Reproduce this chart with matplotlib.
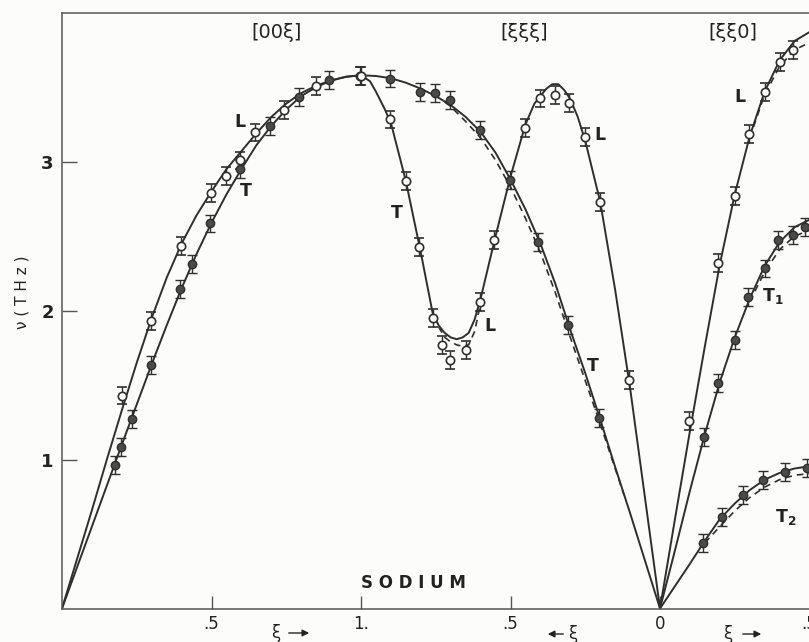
import numpy as np
import matplotlib
matplotlib.use("Agg")
import matplotlib.pyplot as plt
import matplotlib.patches as mpatches

plt.rcParams['font.family'] = ['DejaVu Sans']

# ---------------- data ----------------
# Branch [00xi]: xi from 0 (Gamma) to 1 (H)
xi_00_curve = [0, .05, .1, .15, .2, .25, .3, .35, .4, .45, .5, .55, .6, .65, .7, .75, .8, .85, .9, .95, 1.0]
L_00_curve = [0, .33, .66, 1.0, 1.33, 1.65, 1.95, 2.22, 2.45, 2.64, 2.80, 2.95, 3.07, 3.19, 3.30, 3.39, 3.46, 3.51, 3.545, 3.57, 3.58]
T_00_curve = [0, .275, .55, .825, 1.10, 1.37, 1.64, 1.90, 2.15, 2.38, 2.59, 2.78, 2.95, 3.11, 3.24, 3.35, 3.44, 3.50, 3.545, 3.57, 3.58]

L_00_xi = [0.199, 0.299, 0.399, 0.497, 0.547, 0.596, 0.646, 0.743, 0.849, 0.996]
L_00_nu = [1.43, 1.93, 2.435, 2.79, 2.905, 3.008, 3.196, 3.346, 3.507, 3.574]
T_00_xi = [0.177, 0.196, 0.234, 0.297, 0.393, 0.436, 0.496, 0.596, 0.696, 0.793, 0.893]
T_00_nu = [0.963, 1.086, 1.27, 1.637, 2.146, 2.312, 2.585, 2.948, 3.24, 3.435, 3.547]

# Branch [xixixi]: xi from 1 (H) back to 0 (Gamma)
xi_111_L_curve = [1.0, .97, .95, .92, .9, .85, .8, .76, .74, .72, .7, .68, .66, .64, .62, .6, .55, .5, .45, .42, .4, .38,
                  .36, .34, .32, .3, .275, .25, .2, .15, .1, .05, 0]
L_111_curve = [3.58, 3.54, 3.47, 3.35, 3.26, 2.87, 2.39, 1.98, 1.90, 1.85, 1.82, 1.808, 1.82, 1.85, 1.94, 2.08, 2.50, 2.90,
               3.25, 3.39, 3.44, 3.49, 3.52, 3.52, 3.48, 3.42, 3.30, 3.14, 2.73, 2.14, 1.48, 0.74, 0]
xi_111_Ld = [.74, .72, .7, .68, .66, .64, .62, .6]
L_111_dash = [1.89, 1.82, 1.79, 1.77, 1.76, 1.77, 1.86, 2.05]

xi_111_T_curve = [1.0, .95, .9, .85, .8, .75, .7, .65, .6, .55, .5, .45, .4, .35, .3, .25, .2, .15, .1, .05, 0]
T_111_curve = [3.58, 3.575, 3.56, 3.53, 3.49, 3.44, 3.38, 3.30, 3.20, 3.06, 2.88, 2.68, 2.45, 2.18, 1.87, 1.58, 1.27, 0.95, 0.64, 0.32, 0]
xi_111_Td = [.72, .7, .65, .6, .55, .5, .45, .4, .35, .3, .25, .2, .15, .12]
T_111_dash = [3.40, 3.37, 3.27, 3.16, 3.01, 2.83, 2.62, 2.39, 2.12, 1.82, 1.53, 1.24, 0.94, 0.76]

L_111_xi = [1.0, 0.903, 0.850, 0.805, 0.758, 0.730, 0.702, 0.649, 0.602, 0.555, 0.452, 0.401, 0.351, 0.303, 0.251, 0.201, 0.105]
L_111_nu = [3.574, 3.283, 2.871, 2.428, 1.948, 1.768, 1.667, 1.735, 2.059, 2.473, 3.223, 3.424, 3.446, 3.391, 3.166, 2.73, 1.533]
T_111_xi = [0.903, 0.803, 0.753, 0.702, 0.602, 0.502, 0.407, 0.307, 0.203]
T_111_nu = [3.558, 3.468, 3.458, 3.413, 3.211, 2.876, 2.462, 1.903, 1.277]

# Branch [xixi0]: xi from 0 (Gamma) to 0.5 (N)
xi_110_curve = [0, .05, .1, .15, .2, .25, .3, .35, .4, .45, .5]
L_110_curve = [0, 0.6, 1.19, 1.76, 2.31, 2.78, 3.17, 3.47, 3.68, 3.81, 3.87]
T1_110_curve = [0, 0.39, 0.79, 1.17, 1.52, 1.82, 2.08, 2.30, 2.46, 2.56, 2.61]
T2_110_curve = [0, 0.15, 0.30, 0.455, 0.60, 0.705, 0.795, 0.865, 0.91, 0.94, 0.955]
xi_110_dash = [.3, .35, .4, .45, .5]
L_110_dash = [3.16, 3.45, 3.64, 3.75, 3.80]
T1_110_dash = [2.06, 2.26, 2.41, 2.50, 2.54]
xi_110_T2d = [.15, .2, .25, .3, .35, .4, .45, .5]
T2_110_dash = [0.44, 0.55, 0.655, 0.745, 0.815, 0.865, 0.895, 0.905]

L_110_xi = [0.097, 0.195, 0.251, 0.299, 0.351, 0.401, 0.446]
L_110_nu = [1.258, 2.317, 2.772, 3.183, 3.468, 3.67, 3.748]
T1_110_xi = [0.147, 0.195, 0.251, 0.295, 0.351, 0.396, 0.446, 0.485]
T1_110_nu = [1.153, 1.511, 1.802, 2.093, 2.283, 2.473, 2.507, 2.562]
T2_110_xi = [0.145, 0.206, 0.279, 0.345, 0.418, 0.49]
T2_110_nu = [0.438, 0.616, 0.762, 0.862, 0.918, 0.941]

err = 0.06
tick_pos = [0.5, 1.0, 1.5, 2.0, 2.5]
tick_lab = ['.5', '1.', '.5', '0', '.5']

# ---------------- helpers: put each branch on the common abscissa ----------------
def s100(x):
    return np.asarray(x, float)

def s111(x):
    return 2.0 - np.asarray(x, float)

def s110(x):
    return 2.0 + np.asarray(x, float)

INK = '#2e2e2e'
BG = '#fcfcfa'

fig = plt.figure(figsize=(8.09, 6.42), dpi=100, facecolor=BG)
ax = fig.add_axes([62/809, (642-608.5)/642, (809.5-62)/809, (608.5-12.7)/642])
ax.set_facecolor(BG)
ax.set_xlim(0, 2.5)
ax.set_ylim(0, 4.0)

lw = 1.4
def solid(x, y):
    ax.plot(x, y, color=INK, lw=lw, solid_joinstyle='round', zorder=2)

def dashed(x, y):
    ax.plot(x, y, color=INK, lw=1.2, ls=(0, (4, 3)), zorder=2)

solid(s100(xi_00_curve), L_00_curve)
solid(s100(xi_00_curve), T_00_curve)
solid(s111(xi_111_L_curve), L_111_curve)
dashed(s111(xi_111_Ld), L_111_dash)
solid(s111(xi_111_T_curve), T_111_curve)
dashed(s111(xi_111_Td), T_111_dash)
solid(s110(xi_110_curve), L_110_curve)
solid(s110(xi_110_curve), T1_110_curve)
solid(s110(xi_110_curve), T2_110_curve)
dashed(s110(xi_110_dash), L_110_dash)
dashed(s110(xi_110_dash), T1_110_dash)
dashed(s110(xi_110_T2d), T2_110_dash)

def open_pts(x, y):
    ax.errorbar(x, y, yerr=err, fmt='o', ms=6, mfc='white', mec=INK, mew=1.2,
                ecolor=INK, elinewidth=1.0, capsize=3.5, capthick=1.0, zorder=4)

def filled_pts(x, y):
    ax.errorbar(x, y, yerr=err, fmt='o', ms=6, mfc='#4a4a4a', mec=INK, mew=1.0,
                ecolor=INK, elinewidth=1.0, capsize=3.5, capthick=1.0, zorder=4)

open_pts(s100(L_00_xi), L_00_nu)
filled_pts(s100(T_00_xi), T_00_nu)
open_pts(s111(L_111_xi), L_111_nu)
filled_pts(s111(T_111_xi), T_111_nu)
open_pts(s110(L_110_xi), L_110_nu)
filled_pts(s110(T1_110_xi), T1_110_nu)
filled_pts(s110(T2_110_xi), T2_110_nu)

# axes styling
ax.spines['right'].set_visible(False)
for side in ['left', 'bottom', 'top']:
    ax.spines[side].set_color('#555555')
    ax.spines[side].set_linewidth(1.1)

ax.set_xticks(tick_pos)
ax.set_xticklabels(tick_lab)
ax.set_yticks([1, 2, 3])
ax.set_yticklabels(['1', '2', '3'])
ax.tick_params(axis='x', direction='in', length=9.5, width=1.0, color='#555555',
               pad=5, labelsize=12, labelcolor='#222222')
ax.tick_params(axis='y', direction='in', length=10.5, width=1.0, color='#555555',
               pad=6, labelsize=13, labelcolor='#222222')
for t in ax.get_yticklabels():
    t.set_fontweight('bold')

# direction labels
for txt, x in [('[00ξ]', 0.719), ('[ξξξ]', 1.545), ('[ξξ0]', 2.244)]:
    ax.text(x, 3.865, txt, fontsize=14, ha='center', va='center', color='#222222')

lab = dict(fontsize=12.5, fontweight='bold', ha='center', va='center', color='#222222')
ax.text(0.595, 3.265, 'L', **lab)
ax.text(0.615, 2.80, 'T', **lab)
ax.text(1.12, 2.655, 'T', **lab)
ax.text(1.431, 1.896, 'L', **lab)
ax.text(1.80, 3.178, 'L', **lab)
ax.text(1.776, 1.627, 'T', **lab)
ax.text(2.268, 3.433, 'L', **lab)
ax.text(2.378, 2.097, r'T$_\mathregular{1}$', **lab)
ax.text(2.421, 0.614, r'T$_\mathregular{2}$', **lab)
ax.text(1.174, 0.171, 'S O D I U M', fontsize=12, fontweight='bold', ha='center',
        va='center', color='#222222')

# y label
fig.text(22/809, 1 - 292/642, 'ν ( T H z )', rotation=90, fontsize=11,
         ha='center', va='center', color='#222222')

# xi arrows under axis
def ftxt(px, py, s, **kw):
    fig.text(px/809, 1 - py/642, s, ha='center', va='center', color='#222222', **kw)

ftxt(276, 633, 'ξ', fontsize=12)
ftxt(573, 634, 'ξ', fontsize=12)
ftxt(728, 634, 'ξ', fontsize=12)
for (x0, x1, y) in [(286, 312, 633), (566, 545, 634), (740, 764, 634)]:
    fig.add_artist(mpatches.FancyArrowPatch(
        (x0/809, 1 - y/642), (x1/809, 1 - y/642), transform=fig.transFigure,
        arrowstyle='-|>,head_length=4,head_width=2', lw=1.0, color='#222222',
        mutation_scale=1))

fig.savefig('out.png', dpi=100, facecolor=BG)
